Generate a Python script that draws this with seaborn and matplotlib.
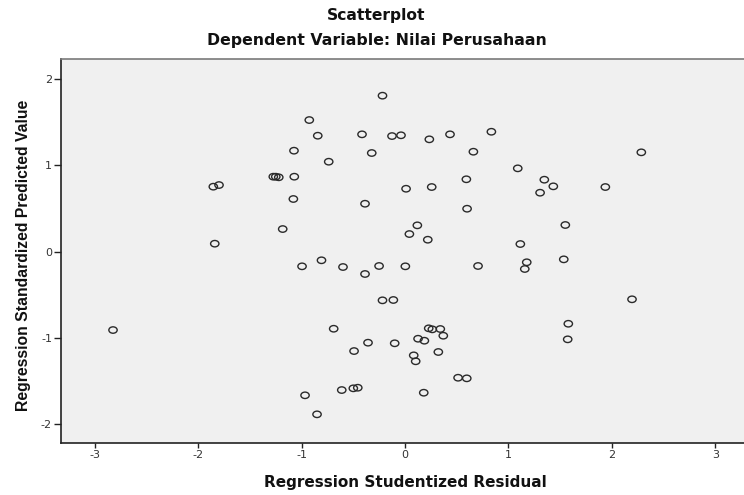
import matplotlib
matplotlib.use('Agg')
import matplotlib.pyplot as plt
import pandas as pd
import seaborn as sns
from matplotlib.path import Path
from matplotlib.transforms import Affine2D

# Nilai yang dibaca dari gambar (residual studentized vs predicted standardized)
residual = [
    -0.218, -0.926, -0.844, -0.416, -0.126, -0.039, 0.235, 0.435, 0.835, -1.074,
    -0.322, -0.738, 0.661, 2.285, 1.090, -1.274, -1.250, -1.221, -1.071, -1.854,
    -1.799, -1.080, -0.387, 0.010, 0.258, 0.593, 1.347, 1.434, 1.306, 1.937,
    0.600, 0.119, 0.042, 0.220, 1.550, 1.115, -1.183, -1.840, -0.996, -0.808,
    -0.600, -0.387, -0.251, 0.003, 0.706, 1.177, 1.158, 1.535, -0.218, -0.113,
    2.195, -2.824, -0.690, -0.358, -0.100, -0.493, 0.229, 0.264, 0.341, 0.370,
    0.126, 0.187, 0.084, 0.103, 0.322, 1.579, 1.573, 0.513, 0.597, 0.181,
    -0.967, -0.612, -0.500, -0.457, -0.851,
]
predicted = [
    1.810, 1.527, 1.345, 1.361, 1.341, 1.350, 1.303, 1.361, 1.391, 1.171,
    1.144, 1.043, 1.159, 1.152, 0.966, 0.869, 0.869, 0.862, 0.869, 0.753,
    0.772, 0.610, 0.555, 0.729, 0.749, 0.839, 0.834, 0.757, 0.683, 0.749,
    0.497, 0.304, 0.203, 0.137, 0.308, 0.087, 0.261, 0.091, -0.172, -0.102,
    -0.180, -0.261, -0.168, -0.172, -0.168, -0.125, -0.203, -0.091, -0.567, -0.563,
    -0.555, -0.912, -0.897, -1.059, -1.066, -1.156, -0.892, -0.904, -0.900, -0.978,
    -1.013, -1.036, -1.206, -1.275, -1.167, -0.839, -1.020, -1.466, -1.473, -1.640,
    -1.670, -1.609, -1.589, -1.582, -1.891,
]
x_ticks = [-3, -2, -1, 0, 1, 2, 3]
y_ticks = [-2, -1, 0, 1, 2]

df = pd.DataFrame({'residual': residual, 'predicted': predicted})

sns.set_theme(style='ticks')
plt.rcParams['font.family'] = ['DejaVu Sans']
plt.rcParams['axes.unicode_minus'] = False

# gambar asli sedikit melebar horizontal -> lingkaran jadi elips
elips = Path.unit_circle().transformed(Affine2D().scale(1.3, 1.0))

fig = plt.figure(figsize=(7.44, 4.95), dpi=100)
ax = fig.add_axes([61 / 744, 52 / 495, 689 / 744, 384 / 495])
ax.set_facecolor('#f0f0f0')

sns.scatterplot(data=df, x='residual', y='predicted', ax=ax, marker=elips,
                s=36, facecolor='none', edgecolor='#2a2a2a', linewidth=1.0)

ax.set_xlim(-3.327, 3.336)
ax.set_ylim(-2.224, 2.236)
ax.set_xticks(x_ticks)
ax.set_yticks(y_ticks)
ax.tick_params(axis='x', direction='out', length=3.8, width=1, color='#222222',
               labelsize=8, labelcolor='#333333', pad=1.5)
ax.tick_params(axis='y', direction='out', length=5, width=1, color='#222222',
               labelsize=8, labelcolor='#333333', pad=1.5)

for side in ['left', 'bottom']:
    ax.spines[side].set_color('#222222')
    ax.spines[side].set_linewidth(1.2)
ax.spines['top'].set_color('#7a7a7a')
ax.spines['top'].set_linewidth(1.2)
ax.spines['right'].set_visible(False)

ax.set_xlabel('')
ax.set_ylabel('')
fig.text(405.5 / 744, 1 - 482 / 495, 'Regression Studentized Residual', ha='center', va='center',
         fontsize=11, fontweight='bold', color='#111111')
fig.text(24 / 744, 1 - 255 / 495, 'Regression Standardized Predicted Value', ha='center', va='center',
         rotation=90, fontsize=11.3, fontweight='bold', family='Liberation Sans', color='#111111')

fig.text(376 / 744, 1 - 15.5 / 495, 'Scatterplot', ha='center', va='center',
         fontsize=11.2, fontweight='bold', color='#111111')
fig.text(377 / 744, 1 - 41 / 495, 'Dependent Variable: Nilai Perusahaan', ha='center', va='center',
         fontsize=11.3, fontweight='bold', color='#111111')

plt.savefig('out.png', dpi=100)
plt.close()
